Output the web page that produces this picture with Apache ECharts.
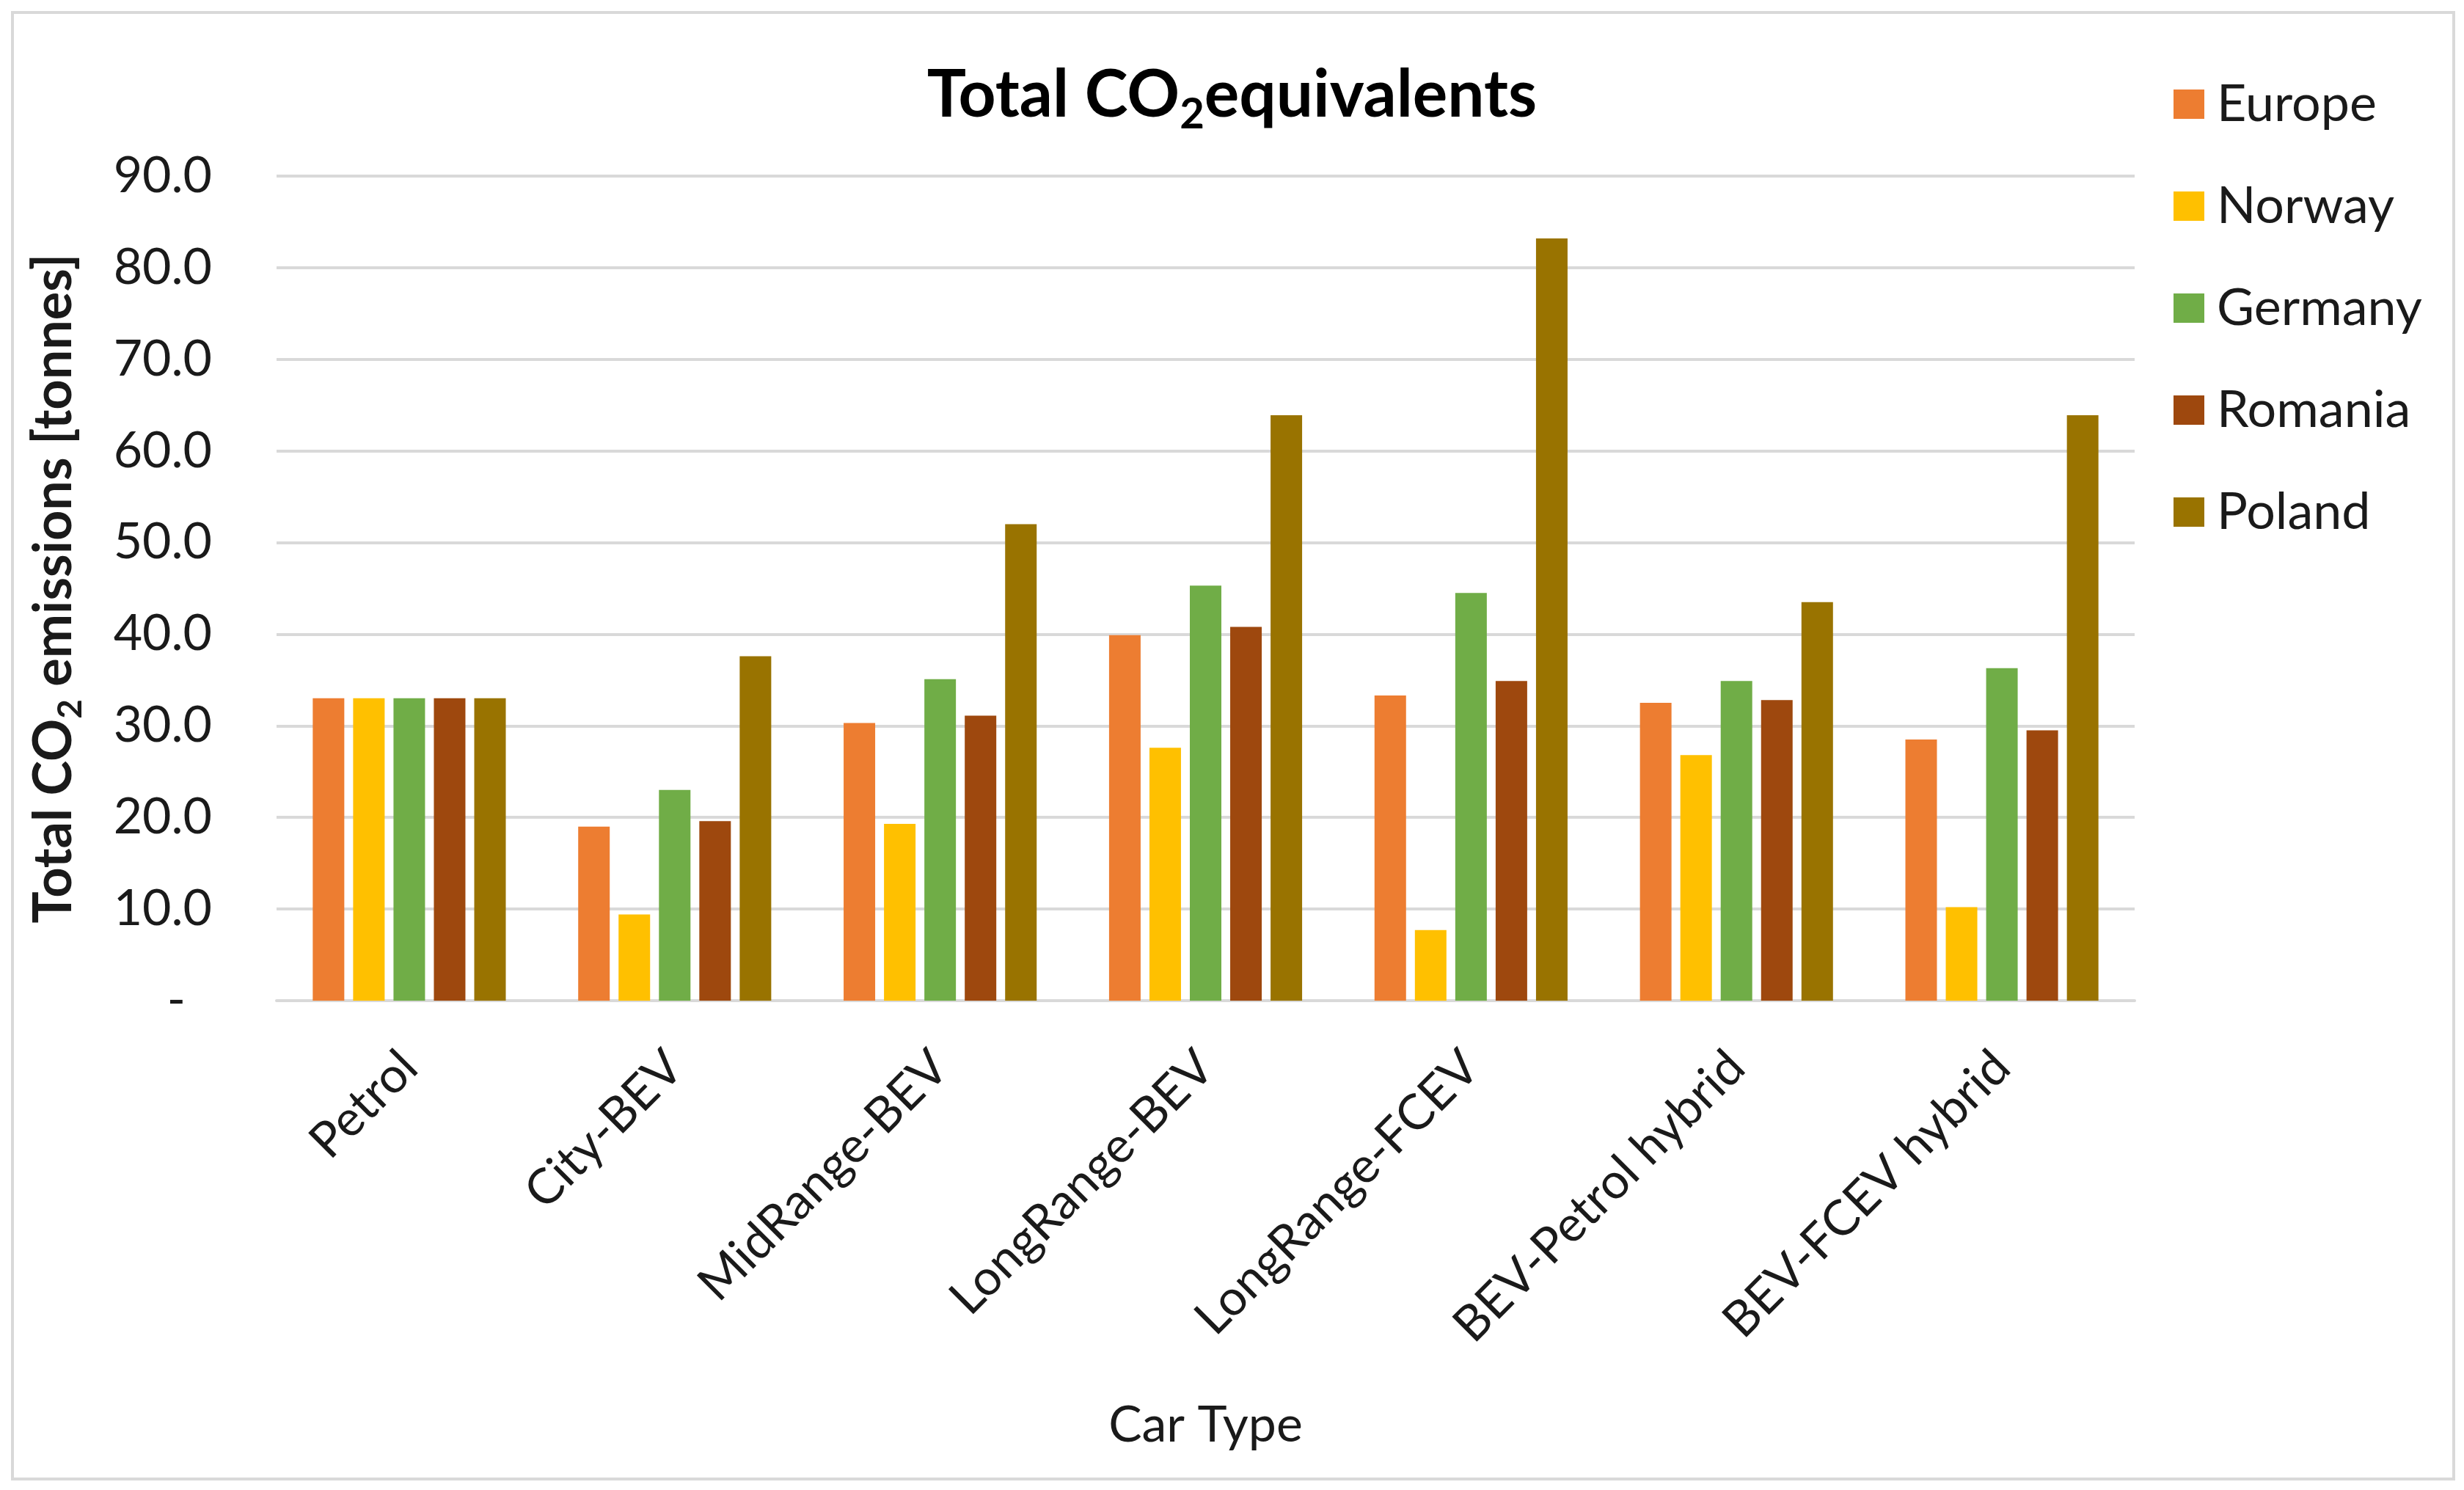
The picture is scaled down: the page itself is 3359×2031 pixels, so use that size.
<!DOCTYPE html>
<html>
<head>
<meta charset="utf-8">
<script src="https://cdn.jsdelivr.net/npm/echarts@6/dist/echarts.min.js"></script>
<style>
html,body{margin:0;padding:0;background:#fff;}
#chart{width:3359px;height:2031px;}
</style>
</head>
<body>
<div id="chart"></div>
<script>
const categories = ['Petrol', 'City-BEV', 'MidRange-BEV', 'LongRange-BEV', 'LongRange-FCEV', 'BEV-Petrol hybrid', 'BEV-FCEV hybrid'];
const europe  = [33.0, 19.0, 30.3, 39.9, 33.3, 32.5, 28.5];
const norway  = [33.0, 9.4, 19.3, 27.6, 7.7, 26.8, 10.2];
const germany = [33.0, 23.0, 35.1, 45.3, 44.5, 34.9, 36.3];
const romania = [33.0, 19.6, 31.1, 40.8, 34.9, 32.8, 29.5];
const poland  = [33.0, 37.6, 52.0, 63.9, 83.2, 43.5, 63.9];
const seriesNames = ['Europe', 'Norway', 'Germany', 'Romania', 'Poland'];
const seriesColors = ['#ED7D31', '#FFC000', '#70AD47', '#9E480E', '#997300'];
const seriesValues = [europe, norway, germany, romania, poland];

const FONT = 'Lato';
const chart = echarts.init(document.getElementById('chart'), null, {renderer: 'canvas'});
const option = {
  backgroundColor: '#ffffff',
  animation: false,
  textStyle: {fontFamily: FONT},
  graphic: [{
    type: 'rect', z: -1,
    shape: {x: 17, y: 17, width: 3328, height: 1999},
    style: {fill: '#ffffff', stroke: '#D9D9D9', lineWidth: 4}
  }],
  title: {
    text: '{a|Total CO}{s|2}{a|equivalents}',
    left: 'center',
    top: 70,
    textStyle: {
      rich: {
        a: {fontFamily: FONT, fontSize: 89, fontWeight: 'bold', color: '#000000', lineHeight: 110},
        s: {fontFamily: FONT, fontSize: 58, fontWeight: 'bold', color: '#000000', padding: [52, 0, 0, 0]}
      }
    }
  },
  legend: {
    orient: 'vertical',
    left: 2958,
    top: 102,
    itemWidth: 42,
    itemHeight: 40,
    itemGap: 69,
    icon: 'rect',
    textStyle: {fontFamily: FONT, fontSize: 70, color: '#1a1a1a', lineHeight: 70, padding: [0, 0, 0, 12]},
    data: seriesNames
  },
  grid: {left: 377, right: 449, top: 240, bottom: 667, containLabel: false},
  xAxis: {
    type: 'category',
    data: categories,
    name: 'Car Type',
    nameLocation: 'middle',
    nameGap: 545,
    nameTextStyle: {fontFamily: FONT, fontSize: 68, color: '#1a1a1a'},
    axisLine: {show: true, lineStyle: {color: '#D9D9D9', width: 4}},
    axisTick: {show: false},
    axisLabel: {
      interval: 0, rotate: 45, margin: 80,
      fontFamily: FONT, fontSize: 67, color: '#1a1a1a'
    }
  },
  yAxis: {
    type: 'value',
    min: 0, max: 90, interval: 10,
    name: '{a|Total CO}{s|2}{a| emissions [tonnes]}',
    nameLocation: 'middle',
    nameGap: 258,
    nameTextStyle: {
      rich: {
        a: {fontFamily: FONT, fontSize: 72, fontWeight: 'bold', color: '#1a1a1a', lineHeight: 86},
        s: {fontFamily: FONT, fontSize: 46, fontWeight: 'bold', color: '#1a1a1a', padding: [44, 0, 0, 0]}
      }
    },
    axisLine: {show: false},
    axisTick: {show: false},
    splitLine: {show: true, lineStyle: {color: '#D9D9D9', width: 4}},
    axisLabel: {
      margin: 88,
      fontFamily: FONT, fontSize: 68, color: '#1a1a1a',
      formatter: function (v) { return v === 0 ? '{d|-}' : v.toFixed(1); },
      rich: {d: {fontFamily: FONT, fontSize: 68, color: '#1a1a1a', padding: [0, 36, 0, 0]}}
    }
  },
  series: seriesNames.map(function (name, i) {
    return {
      name: name,
      type: 'bar',
      data: seriesValues[i],
      barWidth: 43,
      barGap: '28%',
      itemStyle: {color: seriesColors[i]}
    };
  })
};
chart.setOption(option);
</script>
</body>
</html>
